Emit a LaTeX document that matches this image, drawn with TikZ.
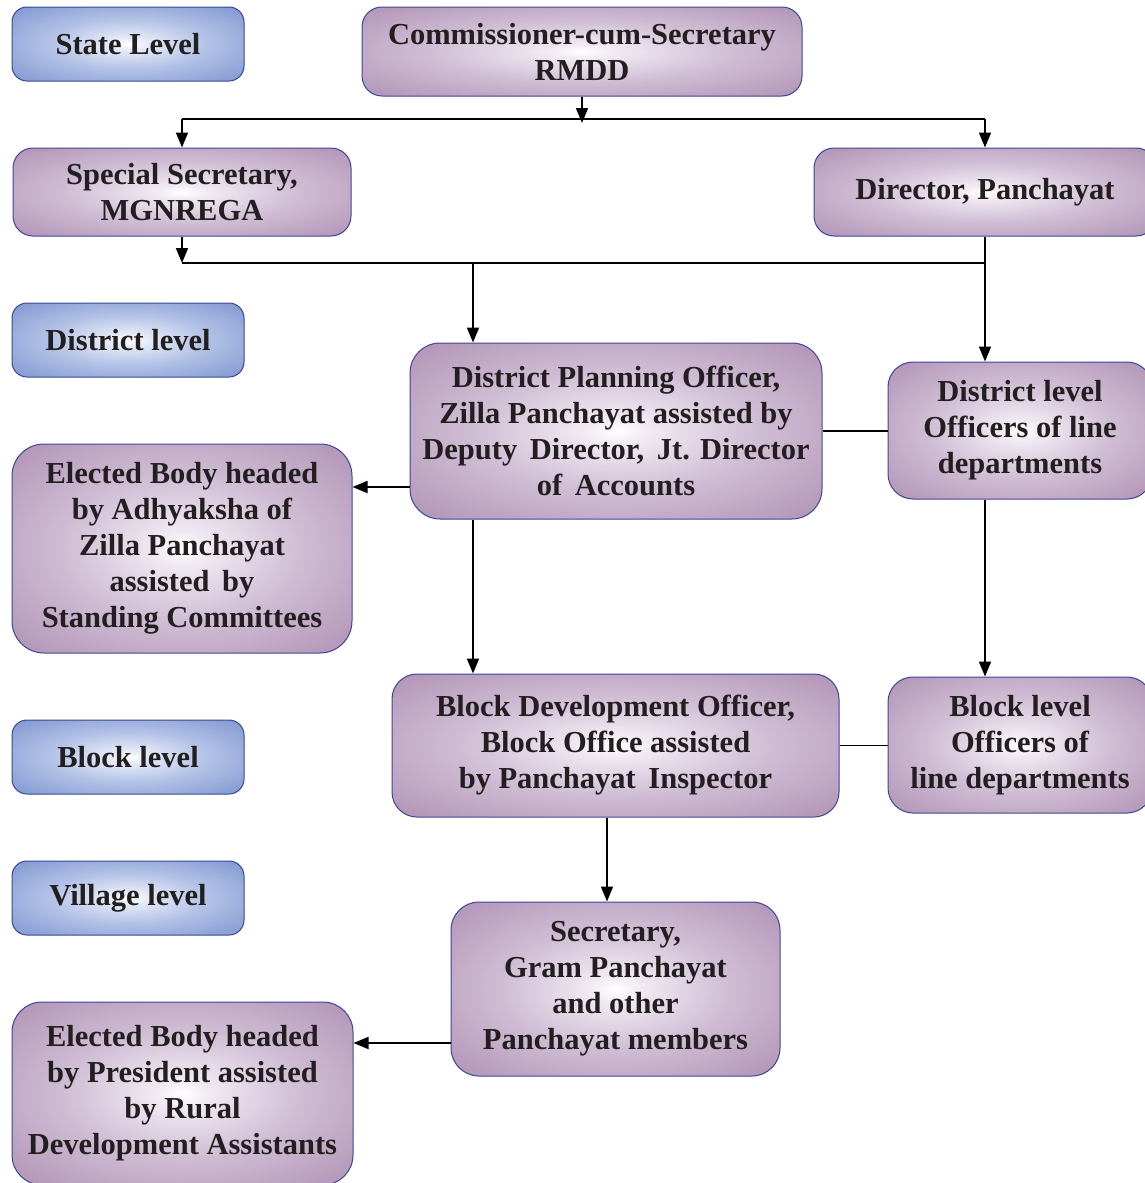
\documentclass[tikz,border=0pt]{standalone}
\usepackage{fontspec}
\setmainfont{Liberation Serif}
\usetikzlibrary{arrows.meta}
\definecolor{pin}{HTML}{F0E9F2}
\definecolor{pq}{HTML}{D0BED5}
\definecolor{pmid}{HTML}{B193B6}
\definecolor{pout}{HTML}{A081A4}
\definecolor{bin}{HTML}{E6EBF7}
\definecolor{bq}{HTML}{B2C1E6}
\definecolor{bmid}{HTML}{8098D1}
\definecolor{bout}{HTML}{6E86C5}
\definecolor{bordc}{HTML}{3B4796}
\definecolor{txt}{HTML}{231F20}
\pgfdeclareradialshading{purpshade}{\pgfpoint{0bp}{0bp}}{color(0bp)=(white); color(4bp)=(pin); color(17bp)=(pq); color(35bp)=(pmid); color(50bp)=(pout)}
\pgfdeclareradialshading{blueshade}{\pgfpoint{0bp}{0bp}}{color(0bp)=(white); color(4bp)=(bin); color(17bp)=(bq); color(35bp)=(bmid); color(50bp)=(bout)}
\tikzset{
  box/.style={draw=bordc, line width=1pt, rounded corners=20pt, shading=purpshade,
    align=center, font=\bfseries\fontsize{30.5}{36}\selectfont, text=txt, inner sep=0pt},
  lvl/.style={box, shading=blueshade, rounded corners=15pt},
  conn/.style={line width=1.8pt, draw=black},
  arr/.style={conn, -{Triangle[length=15pt,width=12pt]}},
}
\begin{document}
\begin{tikzpicture}[x=1pt,y=-1pt]
\useasboundingbox (0,0) rectangle (1145,1183);
\clip (0,0) rectangle (1145,1183);
% level labels
\node[lvl, minimum width=232, minimum height=74] (state) at (128,44) {State Level};
\node[lvl, minimum width=232, minimum height=74] (distlvl) at (128,340) {District level};
\node[lvl, minimum width=232, minimum height=74] (blklvl) at (128,757) {Block level};
\node[lvl, minimum width=232, minimum height=74] (vlvl) at (128,898) {Village level};
% boxes
\node[box, minimum width=440, minimum height=89] (comm) at (582,51.5) {Commissioner-cum-Secretary\\RMDD};
\node[box, minimum width=338, minimum height=88] (ss) at (182,192) {Special Secretary,\\MGNREGA};
\node[box, minimum width=342, minimum height=88] (dir) at (985,192) {Director, Panchayat};
\node[box, rounded corners=30pt, minimum width=412, minimum height=176] (dpo) at (616,431) {District Planning Officer,\\Zilla Panchayat assisted by\\Deputy\hspace{5pt} Director,\hspace{5pt} Jt. Director\\of\hspace{5pt} Accounts};
\node[box, rounded corners=25pt, minimum width=264, minimum height=137] (dlo) at (1020,430.5) {District level\\Officers of line\\departments};
\node[box, rounded corners=32pt, minimum width=340, minimum height=209] (ezp) at (182,548.5) {Elected Body headed\\by Adhyaksha of\\Zilla Panchayat\\assisted\hspace{5pt} by\\Standing Committees};
\node[box, rounded corners=25pt, minimum width=447, minimum height=143] (bdo) at (615.5,745.5) {Block Development Officer,\\Block Office assisted\\by Panchayat\hspace{5pt} Inspector};
\node[box, rounded corners=25pt, minimum width=264, minimum height=136] (blo) at (1020,745) {Block level\\Officers of\\line departments};
\node[box, rounded corners=28pt, minimum width=329, minimum height=174] (sgp) at (615.5,989) {Secretary,\\Gram Panchayat\\and other\\Panchayat members};
\node[box, rounded corners=30pt, minimum width=341, minimum height=183] (epres) at (182.5,1093.5) {Elected Body headed\\by President assisted\\by Rural\\Development Assistants};
% junction coordinates
\coordinate (h1) at (0,119);
\coordinate (h1t) at (582,123);
\coordinate (h2) at (0,263);
\coordinate (x473) at (473,0);
\coordinate (x607) at (607,0);
\coordinate (yz) at (0,487);
\coordinate (yv) at (0,1043);
% connectors
\draw[arr] (comm.south) -- (h1t);
\draw[conn] (h1 -| ss.north) -- (h1 -| dir.north);
\draw[arr] (h1 -| ss.north) -- (ss.north);
\draw[arr] (h1 -| dir.north) -- (dir.north);
\draw[arr] (ss.south) -- (h2 -| ss.south);
\draw[conn] (h2 -| ss.south) -- (h2 -| dir.south);
\draw[conn] (dir.south) -- (h2 -| dir.south);
\draw[arr] (h2 -| dir.south) -- (dlo.north -| dir.south);
\draw[arr] (h2 -| x473) -- (dpo.north -| x473);
\draw[arr] (dpo.west |- yz) -- (ezp.east |- yz);
\draw[conn] (dpo.east) -- (dpo.east -| dlo.west);
\draw[arr] (dpo.south -| x473) -- (bdo.north -| x473);
\draw[arr] (dlo.south -| dir.south) -- (blo.north -| dir.south);
\draw[conn] (bdo.east) -- (bdo.east -| blo.west);
\draw[arr] (bdo.south -| x607) -- (sgp.north -| x607);
\draw[arr] (sgp.west |- yv) -- (epres.east |- yv);
\end{tikzpicture}
\end{document}
